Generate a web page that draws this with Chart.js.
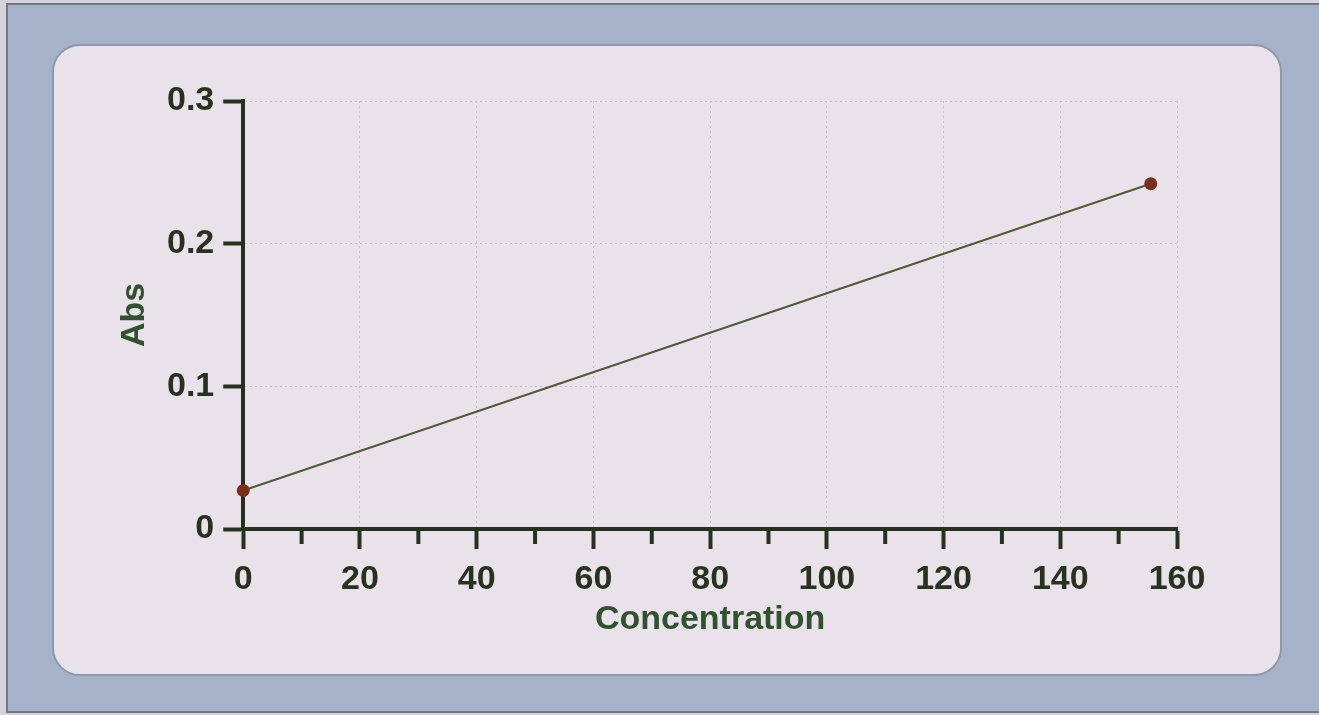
<!DOCTYPE html>
<html>
<head>
<meta charset="utf-8">
<script src="https://cdn.jsdelivr.net/npm/chart.js@4"></script>
<style>
    html, body {
        margin: 0;
        padding: 0;
        width: 1319px;
        height: 715px;
        overflow: hidden;
        background: #d6d2dc;
    }
    .frame {
        position: absolute;
        left: 6px;
        top: 3px;
        width: 1313px;
        height: 710px;
        background: #a5b2c9;
        border-left: 2px solid #6f7784;
        border-top: 2px solid #6f7784;
        border-bottom: 2px solid #6f7784;
        box-sizing: border-box;
    }
    .panel {
        position: absolute;
        left: 52px;
        top: 44px;
        width: 1230px;
        height: 632px;
        background: #eae2ea;
        border: 2px solid #8f98a6;
        border-radius: 28px;
        box-sizing: border-box;
    }
    #chart {
        position: absolute;
        left: 0;
        top: 0;
    }
</style>
</head>
<body>
<div class="frame"></div>
<div class="panel"></div>
<canvas id="chart" width="1319" height="715"></canvas>
<script>
    const concentration = [0, 155.5];
    const absorbance = [0.027, 0.242];
    const xTickValues = [0, 20, 40, 60, 80, 100, 120, 140, 160];
    const xMinorTickValues = [10, 30, 50, 70, 90, 110, 130, 150];
    const yTickValues = [0, 0.1, 0.2, 0.3];

    const axisColor = "#26321f";
    const labelColor = "#27331f";
    const titleColor = "#31522f";
    const gridColor = "#c8c0ca";
    const font = "'Liberation Sans', Arial, sans-serif";

    // short ticks between the labelled ones on the x axis
    const minorTicks = {
        id: "minorTicks",
        afterDraw(chart) {
            const x = chart.scales.x;
            const ctx = chart.ctx;
            const y0 = x.top;
            ctx.save();
            ctx.strokeStyle = axisColor;
            ctx.lineWidth = 4;
            xMinorTickValues.forEach(v => {
                const px = x.getPixelForValue(v);
                ctx.beginPath();
                ctx.moveTo(px, y0);
                ctx.lineTo(px, y0 + 15);
                ctx.stroke();
            });
            ctx.restore();
        }
    };

    const labelFont = { family: font, size: 34, weight: "bold", lineHeight: 1 };

    new Chart(document.getElementById("chart"), {
        type: "scatter",
        data: {
            datasets: [
                {
                    data: concentration.map((c, i) => ({ x: c, y: absorbance[i] })),
                    showLine: true,
                    borderColor: "#4e5a3a",
                    borderWidth: 2,
                    pointRadius: 6.5,
                    pointBorderWidth: 0,
                    pointBackgroundColor: "#7a2f1d",
                    clip: false
                }
            ]
        },
        options: {
            responsive: false,
            animation: false,
            layout: {
                padding: { left: 118, right: 142, top: 101, bottom: 78 }
            },
            plugins: {
                legend: { display: false },
                tooltip: { enabled: false }
            },
            scales: {
                x: {
                    type: "linear",
                    min: 0,
                    max: 160,
                    afterBuildTicks: (scale) => {
                        scale.ticks = xTickValues.map(v => ({ value: v }));
                    },
                    ticks: {
                        color: labelColor,
                        padding: 14,
                        maxRotation: 0,
                        font: labelFont
                    },
                    grid: {
                        color: gridColor,
                        lineWidth: 1,
                        tickLength: 20,
                        tickColor: axisColor,
                        tickWidth: 4
                    },
                    border: {
                        color: axisColor,
                        width: 4,
                        dash: [2, 3]
                    },
                    title: {
                        display: true,
                        text: "Concentration",
                        color: titleColor,
                        padding: { top: -8, bottom: 0 },
                        font: labelFont
                    }
                },
                y: {
                    type: "linear",
                    min: 0,
                    max: 0.3,
                    afterBuildTicks: (scale) => {
                        scale.ticks = yTickValues.map(v => ({ value: v }));
                    },
                    ticks: {
                        color: labelColor,
                        padding: 9,
                        font: labelFont,
                        callback: (v) => String(v)
                    },
                    grid: {
                        color: gridColor,
                        lineWidth: 1,
                        tickLength: 20,
                        tickColor: axisColor,
                        tickWidth: 4
                    },
                    border: {
                        color: axisColor,
                        width: 4,
                        dash: [2, 3]
                    },
                    title: {
                        display: true,
                        text: "Abs",
                        color: titleColor,
                        padding: { top: 0, bottom: 6 },
                        font: labelFont
                    }
                }
            }
        },
        plugins: [minorTicks]
    });
</script>
</body>
</html>
